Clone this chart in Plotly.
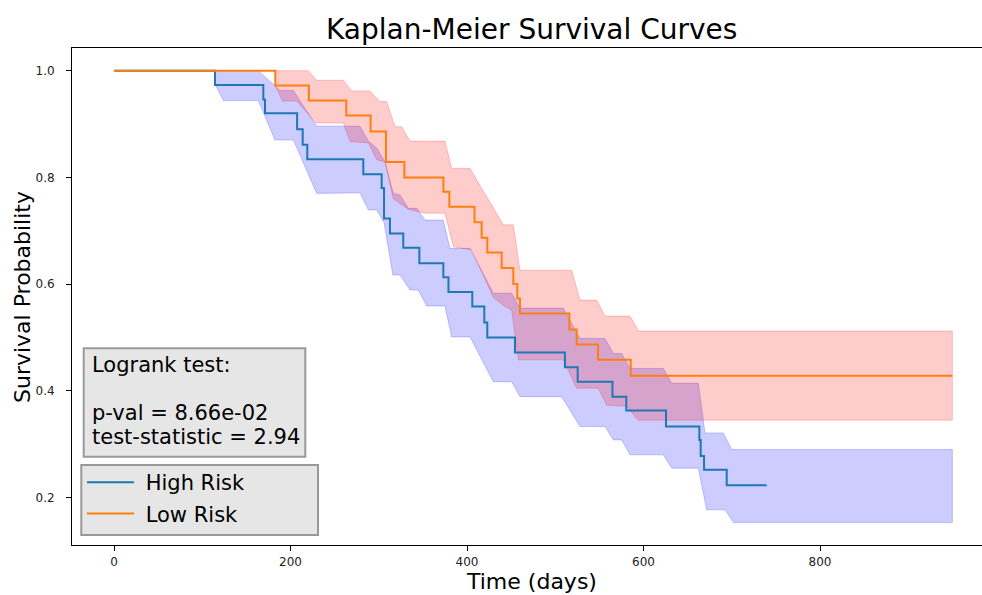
import plotly.graph_objects as go

# ---------------- data ----------------
# Kaplan-Meier step curves (time in days, survival probability)
high_t = [0, 114.4, 169.2, 171.1, 207.5, 213.8, 219.0, 282.5, 303.3, 306.0, 312.7, 327.8, 346.0,
          373.2, 379.0, 406.0, 419.6, 423.0, 454.4, 511.0, 525.4, 564.8, 580.5, 625.5,
          663.3, 664.8, 668.6, 694.3, 739.6]
high_s = [1.0, 0.973, 0.946, 0.920, 0.890, 0.861, 0.834, 0.806, 0.780, 0.723, 0.695, 0.668, 0.639,
          0.613, 0.585, 0.558, 0.528, 0.500, 0.472, 0.444, 0.417, 0.389, 0.363, 0.333,
          0.308, 0.278, 0.252, 0.223, 0.223]

low_t = [0, 182.8, 220.8, 263.2, 290.8, 308.2, 329.0, 373.3, 380.0, 408.5, 416.6, 423.0, 439.3,
         452.5, 457.0, 460.0, 516.0, 524.3, 548.5, 585.5, 950.0]
low_s = [1.0, 0.972, 0.944, 0.916, 0.886, 0.829, 0.800, 0.773, 0.745, 0.716, 0.687, 0.659, 0.630,
         0.600, 0.573, 0.545, 0.515, 0.487, 0.458, 0.428, 0.428]

# Confidence band edges (vertices as drawn)
high_up_t = [114.4, 163.5, 188.1, 203.2, 229.7, 278.7, 288.2, 297.7, 307.1, 316.5, 324.0, 333.5,
             343.0, 352.4, 373.1, 380.7, 403.4, 429.8, 450.6, 460.0, 509.1, 518.6, 528.0, 556.4,
             565.8, 575.3, 584.7, 622.4, 632.0, 662.1, 669.7, 690.4, 699.9, 950.0]
high_up_v = [1.0, 1.0, 0.963, 0.963, 0.896, 0.896, 0.868, 0.855, 0.829, 0.770, 0.767, 0.742,
             0.742, 0.720, 0.720, 0.667, 0.667, 0.583, 0.583, 0.555, 0.555, 0.527, 0.498, 0.498,
             0.470, 0.470, 0.442, 0.442, 0.414, 0.414, 0.321, 0.321, 0.290, 0.290]
high_lo_t = [114.4, 123.9, 163.5, 182.4, 203.2, 229.7, 278.7, 288.2, 297.7, 306.0, 316.0, 324.0,
             335.4, 344.8, 354.3, 375.0, 382.6, 403.4, 429.8, 450.6, 460.0, 507.3, 528.0, 556.4,
             565.8, 575.3, 584.7, 622.4, 632.0, 662.1, 671.6, 692.4, 701.8, 950.0]
high_lo_v = [0.975, 0.944, 0.944, 0.870, 0.870, 0.770, 0.771, 0.739, 0.739, 0.715, 0.617, 0.617,
             0.589, 0.589, 0.559, 0.559, 0.501, 0.501, 0.417, 0.417, 0.389, 0.389, 0.333, 0.333,
             0.308, 0.308, 0.280, 0.280, 0.255, 0.255, 0.177, 0.177, 0.153, 0.153]

low_up_t = [182.8, 220.2, 229.7, 259.8, 269.3, 290.0, 301.4, 309.0, 318.4, 326.0, 335.4, 375.0,
            382.6, 403.4, 441.1, 452.5, 460.0, 518.6, 528.0, 547.0, 556.4, 584.7, 594.5, 950.0]
low_up_v = [1.0, 1.0, 0.982, 0.982, 0.962, 0.962, 0.942, 0.942, 0.895, 0.895, 0.868, 0.868,
            0.817, 0.817, 0.711, 0.711, 0.626, 0.626, 0.570, 0.570, 0.540, 0.540, 0.512, 0.512]
low_lo_t = [182.8, 191.0, 207.0, 229.0, 259.8, 267.4, 288.2, 297.7, 307.1, 316.5, 333.5, 352.4,
            375.0, 384.5, 405.3, 429.8, 441.1, 450.6, 458.2, 509.1, 524.3, 548.8, 558.3, 581.0,
            594.0, 950.0]
low_lo_v = [0.972, 0.943, 0.943, 0.902, 0.902, 0.867, 0.865, 0.833, 0.829, 0.760, 0.740, 0.733,
            0.733, 0.670, 0.664, 0.575, 0.560, 0.551, 0.458, 0.458, 0.405, 0.405, 0.373, 0.371,
            0.345, 0.345]

x_ticks = [0, 200, 400, 600, 800]
y_ticks = [0.2, 0.4, 0.6, 0.8, 1.0]
y_tick_text = ["0.2", "0.4", "0.6", "0.8", "1.0"]

group_names = ["High Risk", "Low Risk"]
line_colors = ["#1f77b4", "#ff7f0e"]
band_colors = ["rgba(0,0,255,0.2)", "rgba(255,0,0,0.2)"]

title_text = "Kaplan-Meier Survival Curves"
x_label = "Time (days)"
y_label = "Survival Probability"
logrank_lines = ["Logrank test:", "p-val = 8.66e-02", "test-statistic = 2.94"]

# ---------------- figure ----------------
FONT = "DejaVu Sans"
W, H = 982, 595
ML, MR, MT, MB = 72, 0, 48, 50
PW, PH = W - ML - MR, H - MT - MB


def px(X):
    return (X - ML) / PW


def py(Y):
    return (H - MB - Y) / PH


fig = go.Figure()

bands = [(high_up_t, high_up_v, high_lo_t, high_lo_v), (low_up_t, low_up_v, low_lo_t, low_lo_v)]
for (ut, uv, lt, lv), bc in zip(bands, band_colors):
    fig.add_trace(go.Scatter(
        x=ut + lt[::-1], y=uv + lv[::-1], mode="lines", fill="toself",
        fillcolor=bc, line=dict(color=bc, width=1), showlegend=False, hoverinfo="skip"))

for t, s, name, c in zip([high_t, low_t], [high_s, low_s], group_names, line_colors):
    fig.add_trace(go.Scatter(
        x=t, y=s, mode="lines", line=dict(color=c, width=2, shape="hv"),
        name="\u00a0" + name, legendgroup=name))

shapes = [
    # logrank text box
    dict(type="rect", xref="paper", yref="paper", x0=px(83.7), x1=px(305.3), y0=py(456.7), y1=py(348.3),
         fillcolor="#e6e6e6", line=dict(color="#999999", width=2), layer="above"),
    # legend box
    dict(type="rect", xref="paper", yref="paper", x0=px(81.3), x1=px(318), y0=py(535), y1=py(465),
         fillcolor="#e6e6e6", line=dict(color="#999999", width=2), layer="above"),
]

annotations = [
    dict(text=title_text, xref="paper", yref="paper", x=px(531.5), y=py(29), xanchor="center",
         yanchor="middle", showarrow=False, font=dict(family=FONT, size=28, color="#000")),
    dict(text=x_label, xref="paper", yref="paper", x=px(531.5), y=py(581), xanchor="center",
         yanchor="middle", showarrow=False, font=dict(family=FONT, size=22, color="#000")),
    dict(text=y_label, xref="paper", yref="paper", x=px(22), y=py(297), xanchor="center",
         yanchor="middle", showarrow=False, textangle=-90, font=dict(family=FONT, size=22, color="#000")),
]
for line, ycen in zip(logrank_lines, [365, 413, 437]):
    annotations.append(dict(text=line, xref="paper", yref="paper", x=px(90), y=py(ycen),
                            xanchor="left", yanchor="middle", showarrow=False,
                            font=dict(family=FONT, size=21, color="#000")))

fig.update_layout(
    width=W, height=H, margin=dict(l=ML, r=MR, t=MT, b=MB, pad=0),
    paper_bgcolor="white", plot_bgcolor="white",
    font=dict(family=FONT, color="#000"),
    shapes=shapes, annotations=annotations,
    legend=dict(x=px(82), y=py(462), xanchor="left", yanchor="top", bgcolor="rgba(0,0,0,0)",
                borderwidth=0, font=dict(family=FONT, size=21, color="#000"),
                itemwidth=47, tracegroupgap=1),
    xaxis=dict(range=[(ML - 114) / 0.8825, (W - 114) / 0.8825], tickvals=x_ticks,
               ticks="outside", ticklen=5, tickcolor="#000", tickwidth=1,
               showline=True, linecolor="#000", linewidth=1, mirror=True,
               showgrid=False, zeroline=False, ticklabelstandoff=1,
               tickfont=dict(family=FONT, size=12, color="#222")),
    yaxis=dict(range=[0.111, 1.0425], tickvals=y_ticks, ticktext=y_tick_text,
               ticks="outside", ticklen=5, tickcolor="#000", tickwidth=1,
               showline=True, linecolor="#000", linewidth=1, mirror=False,
               showgrid=False, zeroline=False, ticklabelstandoff=9,
               tickfont=dict(family=FONT, size=12, color="#222")),
)

fig.write_html("out.html")
